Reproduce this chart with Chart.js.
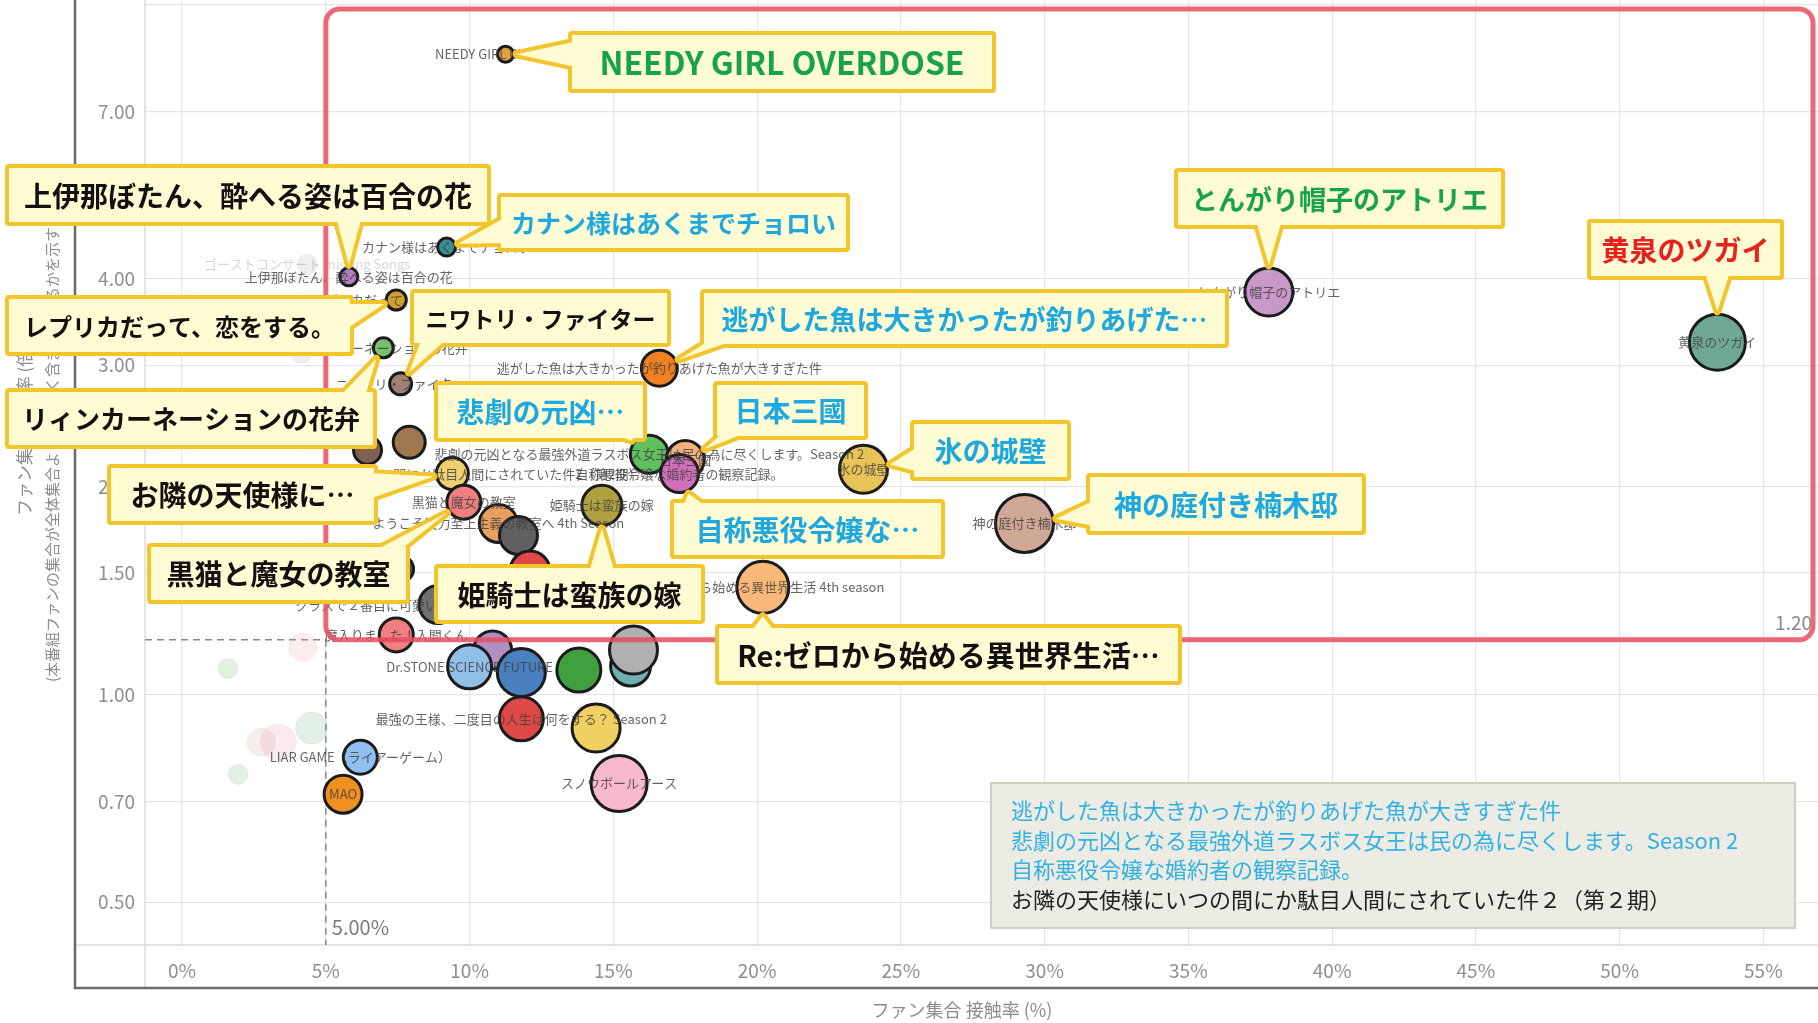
<!DOCTYPE html>
<html>
<head>
<meta charset="utf-8">
<script src="https://cdn.jsdelivr.net/npm/chart.js@4.4.1/dist/chart.umd.min.js"></script>
<style>
  html, body { margin: 0; padding: 0; background: #fff; overflow: hidden; }
</style>
</head>
<body>
<canvas id="chart" width="1818" height="1023"></canvas>
<script>
// --- data ---
const titles = [
  'NEEDY GIRL OVERDOSE',
  'カナン様はあくまでチョロい',
  '上伊那ぼたん、酔へる姿は百合の花',
  'レプリカだって、恋をする。',
  'リィンカーネーションの花弁',
  'ニワトリ・ファイター',
  '逃がした魚は大きかったが釣りあげた魚が大きすぎた件',
  '悲劇の元凶となる最強外道ラスボス女王は民の為に尽くします。Season 2',
  '日本三國',
  '自称悪役令嬢な婚約者の観察記録。',
  '氷の城壁',
  '神の庭付き楠木邸',
  'とんがり帽子のアトリエ',
  '黄泉のツガイ',
  '姫騎士は蛮族の嫁',
  'Re:ゼロから始める異世界生活 4th season',
  'お隣の天使様にいつの間にか駄目人間にされていた件2（第2期）',
  '黒猫と魔女の教室',
  'ようこそ実力至上主義の教室へ 4th Season',
  '',
  '',
  '',
  '',
  'クラスで２番目に可愛い女の子と友だちになった',
  '',
  '魔入りました！入間くん',
  '',
  'Dr.STONE SCIENCE FUTURE',
  '',
  '',
  '',
  '',
  '最強の王様、二度目の人生は何をする？ Season 2',
  '',
  'スノウボールアース',
  'LIAR GAME（ライアーゲーム）',
  'MAO'
];
// fan-set contact rate (%)
const contactRates = [11.25, 9.2, 5.8, 7.45, 7.0, 7.6, 16.6, 16.25, 17.5, 17.3, 23.7, 29.3, 37.8, 53.4,
  14.6, 20.2, 9.4, 9.8, 11.0, 11.7, 12.1, 6.45, 7.9, 8.9, 7.6, 7.45, 10.8, 10.0, 11.8, 13.8, 15.6, 15.7,
  11.8, 14.4, 15.2, 6.2, 5.6];
// fan-set multiple (x times the whole set)
const multiples = [8.47, 4.45, 4.03, 3.73, 3.18, 2.82, 2.97, 2.23, 2.19, 2.09, 2.12, 1.77, 3.83, 3.24,
  1.88, 1.43, 2.09, 1.90, 1.77, 1.70, 1.51, 2.26, 2.32, 1.35, 1.52, 1.22, 1.16, 1.097, 1.076, 1.085, 1.10, 1.16,
  0.922, 0.894, 0.743, 0.811, 0.717];
// bubble size
const sizes = [8, 9, 9, 10, 10, 11, 18, 19, 19, 19, 24, 29, 24, 28,
  20, 26, 16, 17, 19, 19, 20, 14, 16, 19, 13, 17, 19, 22, 24, 22, 20, 24,
  22, 24, 28, 17, 19];
const colors = ['#e0a040', '#3a9090', '#b080c0', '#d0a030', '#78c070', '#a08070', '#f08020', '#60c060',
  '#f0b080', '#d070b8', '#e8c458', '#d0a898', '#c898c8', '#70a898', '#b0a040', '#f8b878', '#f0d070',
  '#f08080', '#e8a060', '#606060', '#e04848', '#806050', '#a07850', '#707070', '#505050', '#f08080',
  '#b090c0', '#90c0e8', '#4a80c0', '#40a040', '#70b0b0', '#b0b0b0', '#e04848', '#f0d060', '#f8b8d0',
  '#90c0f0', '#f09020'];

// faded titles left of the 5% line
const ghostTitles = ['ゴーストコンサート missing Songs', '', '', '', '', '', '', ''];
const ghostRates = [4.35, 4.15, 1.6, 3.35, 4.5, 2.75, 1.95, 4.2];
const ghostMultiples = [4.2, 3.12, 1.09, 0.853, 0.894, 0.853, 0.766, 1.17];
const ghostSizes = [10, 10, 10, 18, 16, 14, 10, 14];
const ghostColors = ['#b0a0c0', '#a0a0c0', '#60b060', '#e090a0', '#60b080', '#d0a0a0', '#60b060', '#e0a0a0'];

const xTicks = [0, 5, 10, 15, 20, 25, 30, 35, 40, 45, 50, 55];
const yTicks = [0.5, 0.7, 1, 1.5, 2, 3, 4, 7, 10];
const rateLine = 5;
const multipleLine = 1.2;

// callouts: text, colour, box [x, y, w, h]
const callouts = [
  { title: '上伊那ぼたん、酔へる姿は百合の花', text: '上伊那ぼたん、酔へる姿は百合の花', color: '#111', box: [9, 168, 478, 54] },
  { title: 'NEEDY GIRL OVERDOSE', text: 'NEEDY GIRL OVERDOSE', color: '#17a34a', box: [572, 35, 420, 54], size: 32 },
  { title: 'カナン様はあくまでチョロい', text: 'カナン様はあくまでチョロい', color: '#1ea8e0', box: [501, 197, 345, 51] },
  { title: 'とんがり帽子のアトリエ', text: 'とんがり帽子のアトリエ', color: '#17a34a', box: [1178, 172, 323, 53] },
  { title: '黄泉のツガイ', text: '黄泉のツガイ', color: '#e8201e', box: [1591, 223, 189, 53] },
  { title: 'レプリカだって、恋をする。', text: 'レプリカだって、恋をする。', color: '#111', box: [9, 299, 341, 53] },
  { title: 'ニワトリ・ファイター', text: 'ニワトリ・ファイター', color: '#111', box: [414, 293, 253, 50] },
  { title: '逃がした魚は大きかったが釣りあげた魚が大きすぎた件', text: '逃がした魚は大きかったが釣りあげた…', color: '#1ea8e0', box: [704, 293, 521, 51] },
  { title: 'リィンカーネーションの花弁', text: 'リィンカーネーションの花弁', color: '#111', box: [9, 392, 364, 53] },
  { title: '悲劇の元凶となる最強外道ラスボス女王は民の為に尽くします。Season 2', text: '悲劇の元凶…', color: '#1ea8e0', box: [438, 385, 205, 53] },
  { title: '日本三國', text: '日本三國', color: '#1ea8e0', box: [717, 385, 147, 51] },
  { title: '氷の城壁', text: '氷の城壁', color: '#1ea8e0', box: [914, 424, 153, 53] },
  { title: '神の庭付き楠木邸', text: '神の庭付き楠木邸', color: '#1ea8e0', box: [1090, 477, 272, 54] },
  { title: 'お隣の天使様にいつの間にか駄目人間にされていた件2（第2期）', text: 'お隣の天使様に…', color: '#111', box: [111, 468, 263, 53] },
  { title: '自称悪役令嬢な婚約者の観察記録。', text: '自称悪役令嬢な…', color: '#1ea8e0', box: [674, 503, 267, 52] },
  { title: '黒猫と魔女の教室', text: '黒猫と魔女の教室', color: '#111', box: [151, 547, 255, 53] },
  { title: '姫騎士は蛮族の嫁', text: '姫騎士は蛮族の嫁', color: '#111', box: [438, 568, 263, 52] },
  { title: 'Re:ゼロから始める異世界生活 4th season', text: 'Re:ゼロから始める異世界生活…', color: '#111', box: [719, 628, 459, 53], size: 29 }
];

const noteLines = [
  '逃がした魚は大きかったが釣りあげた魚が大きすぎた件',
  '悲劇の元凶となる最強外道ラスボス女王は民の為に尽くします。Season 2',
  '自称悪役令嬢な婚約者の観察記録。',
  'お隣の天使様にいつの間にか駄目人間にされていた件２（第２期）'
];
const noteColors = ['#33b2e2', '#33b2e2', '#33b2e2', '#222'];

const FONT = '"Noto Sans CJK JP", "Noto Sans", sans-serif';

function clamp(v, a, b) { return Math.max(a, Math.min(b, v)); }

function drawCallout(ctx, c, tx, ty, r) {
  const [x, y, w, h] = c.box;
  let side;
  if (ty > y + h) side = 'bottom';
  else if (ty < y) side = 'top';
  else if (tx < x) side = 'left';
  else side = 'right';
  const hw = 13, inset = 5;
  let b1, b2, bc;
  if (side === 'bottom' || side === 'top') {
    const cx = clamp(tx, x + hw + 8, x + w - hw - 8);
    const ey = side === 'bottom' ? y + h - inset : y + inset;
    b1 = [cx - hw, ey]; b2 = [cx + hw, ey]; bc = [cx, ey];
  } else {
    const cy = clamp(ty, y + hw + 5, y + h - hw - 5);
    const ex = side === 'left' ? x + inset : x + w - inset;
    b1 = [ex, cy - hw]; b2 = [ex, cy + hw]; bc = [ex, cy];
  }
  const dx = bc[0] - tx, dy = bc[1] - ty, d = Math.hypot(dx, dy) || 1;
  const tip = [tx + dx / d * (r + 3), ty + dy / d * (r + 3)];
  const tail = () => {
    ctx.beginPath();
    ctx.moveTo(b1[0], b1[1]); ctx.lineTo(tip[0], tip[1]); ctx.lineTo(b2[0], b2[1]);
    ctx.closePath();
  };
  ctx.save();
  ctx.lineJoin = 'round';
  ctx.strokeStyle = '#f3c52c';
  ctx.lineWidth = 8;
  tail(); ctx.stroke();
  ctx.strokeRect(x, y, w, h);
  ctx.fillStyle = '#fffbd3';
  tail(); ctx.fill();
  ctx.fillRect(x, y, w, h);
  let fs = c.size || 28;
  ctx.font = 'bold ' + fs + 'px ' + FONT;
  while (ctx.measureText(c.text).width > w - 18 && fs > 14) {
    fs -= 1;
    ctx.font = 'bold ' + fs + 'px ' + FONT;
  }
  ctx.fillStyle = c.color;
  ctx.textAlign = 'center';
  ctx.textBaseline = 'middle';
  ctx.fillText(c.text, x + w / 2, y + h / 2 + 1);
  ctx.restore();
}

const decorPlugin = {
  id: 'decor',
  beforeDatasetsDraw(chart) {
    const { ctx, chartArea: a, scales: { x, y } } = chart;
    const px = x.getPixelForValue(rateLine);
    const py = y.getPixelForValue(multipleLine);
    ctx.save();
    // frame lines
    ctx.strokeStyle = '#dcdcdc';
    ctx.lineWidth = 1.5;
    ctx.beginPath();
    ctx.moveTo(a.left, 0); ctx.lineTo(a.left, 988);
    ctx.moveTo(75, a.bottom); ctx.lineTo(1818, a.bottom);
    ctx.stroke();
    ctx.strokeStyle = '#6a6a6a';
    ctx.lineWidth = 2.5;
    ctx.beginPath();
    ctx.moveTo(75, 0); ctx.lineTo(75, 988); ctx.lineTo(1818, 988);
    ctx.stroke();
    // dashed reference lines
    ctx.strokeStyle = '#8a8a8a';
    ctx.lineWidth = 1.5;
    ctx.setLineDash([7, 5]);
    ctx.beginPath();
    ctx.moveTo(px, py); ctx.lineTo(px, a.bottom);
    ctx.moveTo(a.left, py); ctx.lineTo(px, py);
    ctx.stroke();
    ctx.setLineDash([]);
    ctx.fillStyle = '#7a7a7a';
    ctx.font = '20px ' + FONT;
    ctx.textAlign = 'left';
    ctx.textBaseline = 'alphabetic';
    ctx.fillText(rateLine.toFixed(2) + '%', px + 6, a.bottom - 10);
    // axis titles
    ctx.fillStyle = '#8c8c8c';
    ctx.font = '18px ' + FONT;
    ctx.textAlign = 'center';
    ctx.fillText('ファン集合 接触率 (%)', 962, 1017);
    ctx.save();
    ctx.translate(25, 430);
    ctx.rotate(-Math.PI / 2);
    ctx.textBaseline = 'middle';
    ctx.font = '17px ' + FONT;
    ctx.fillText('ファン集合 含有率 (倍)', 0, 0);
    ctx.restore();
    ctx.save();
    ctx.translate(52, 452);
    ctx.rotate(-Math.PI / 2);
    ctx.textBaseline = 'middle';
    ctx.font = '15px ' + FONT;
    ctx.fillText('(本番組ファンの集合が全体集合より何倍多く含まれているかを示す)', 0, 0);
    ctx.restore();
    ctx.restore();
  },
  afterDatasetsDraw(chart) {
    const { ctx, chartArea: a, scales: { x, y } } = chart;
    const px = x.getPixelForValue(rateLine);
    const py = y.getPixelForValue(multipleLine);
    ctx.save();
    // bubble labels
    ctx.textAlign = 'center';
    ctx.textBaseline = 'middle';
    ctx.font = '13px ' + FONT;
    ghostTitles.forEach((t, i) => {
      if (!t) return;
      ctx.fillStyle = 'rgba(120,120,120,0.3)';
      ctx.fillText(t, x.getPixelForValue(ghostRates[i]), y.getPixelForValue(ghostMultiples[i]));
    });
    titles.forEach((t, i) => {
      if (!t) return;
      ctx.fillStyle = 'rgba(60,60,60,0.8)';
      ctx.fillText(t, x.getPixelForValue(contactRates[i]), y.getPixelForValue(multiples[i]));
    });
    // highlighted region
    ctx.strokeStyle = 'rgba(232,78,96,0.85)';
    ctx.lineWidth = 5;
    ctx.beginPath();
    ctx.roundRect(px, 9, a.right - 5 - px, py - 9, 14);
    ctx.stroke();
    ctx.fillStyle = '#8a8a8a';
    ctx.font = '19px ' + FONT;
    ctx.textAlign = 'right';
    ctx.textBaseline = 'alphabetic';
    ctx.fillText(multipleLine.toFixed(2), a.right - 6, py - 10);
    // callouts
    callouts.forEach(c => {
      const i = titles.indexOf(c.title);
      drawCallout(ctx, c, x.getPixelForValue(contactRates[i]), y.getPixelForValue(multiples[i]), sizes[i]);
    });
    // note box
    ctx.fillStyle = '#ecebe4';
    ctx.strokeStyle = '#cfcfc6';
    ctx.lineWidth = 2;
    ctx.fillRect(991, 783, 804, 145);
    ctx.strokeRect(991, 783, 804, 145);
    ctx.font = '22px ' + FONT;
    ctx.textAlign = 'left';
    ctx.textBaseline = 'middle';
    noteLines.forEach((t, i) => {
      ctx.fillStyle = noteColors[i];
      ctx.fillText(t, 1011, 811 + i * 29.5);
    });
    ctx.restore();
  }
};

function noPad(s) {
  s.paddingTop = 0; s.paddingBottom = 0; s.paddingLeft = 0; s.paddingRight = 0;
}

new Chart(document.getElementById('chart'), {
  type: 'bubble',
  data: {
    datasets: [
      {
        data: ghostRates.map((v, i) => ({ x: v, y: ghostMultiples[i], r: ghostSizes[i] })),
        backgroundColor: ghostColors.map(c => c + '30'),
        borderColor: 'rgba(0,0,0,0.04)',
        borderWidth: 1
      },
      {
        data: contactRates.map((v, i) => ({ x: v, y: multiples[i], r: sizes[i] })),
        backgroundColor: colors,
        borderColor: '#1b1b1b',
        borderWidth: 3
      }
    ]
  },
  options: {
    responsive: false,
    animation: false,
    layout: { padding: 0, autoPadding: false },
    plugins: { legend: { display: false }, tooltip: { enabled: false } },
    scales: {
      x: {
        type: 'linear',
        min: -1.29,
        max: 56.9,
        afterBuildTicks: s => { s.ticks = xTicks.map(v => ({ value: v })); },
        afterFit: s => { s.height = 78; noPad(s); },
        border: { display: false },
        grid: { color: '#e6e6e6', lineWidth: 1.2, drawTicks: false },
        ticks: {
          autoSkip: false, maxRotation: 0, padding: 14,
          color: '#8f8f8f', font: { size: 19, family: FONT },
          callback: v => v + '%'
        }
      },
      y: {
        type: 'logarithmic',
        min: 0.4335,
        max: 10.15,
        afterBuildTicks: s => { s.ticks = yTicks.map(v => ({ value: v })); },
        afterFit: s => { s.width = 145; noPad(s); },
        border: { display: false },
        grid: { color: '#e6e6e6', lineWidth: 1.2, drawTicks: false },
        ticks: {
          autoSkip: false, padding: 10,
          color: '#8f8f8f', font: { size: 19, family: FONT },
          callback: v => (v >= 10 ? '' : Number(v).toFixed(2))
        }
      }
    }
  },
  plugins: [decorPlugin]
});
</script>
</body>
</html>
